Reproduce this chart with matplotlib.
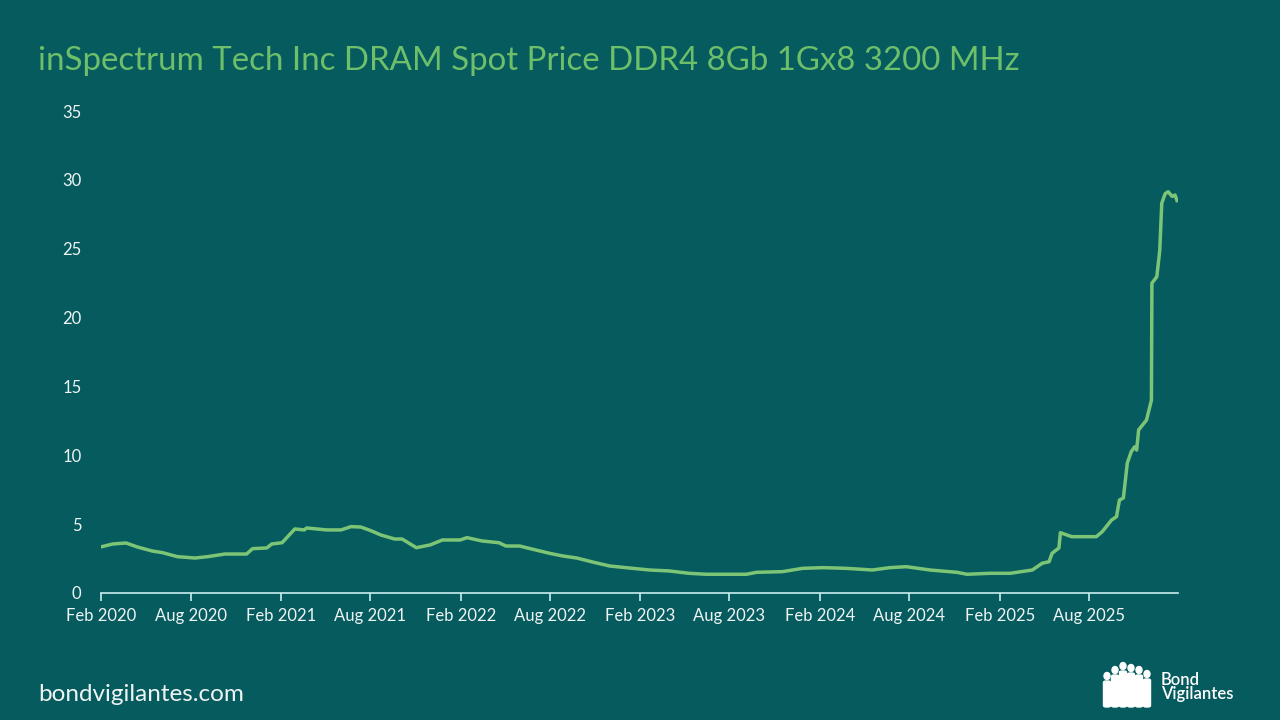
import numpy as np
import pandas as pd
import matplotlib
matplotlib.use("Agg")
import matplotlib.pyplot as plt
import matplotlib.dates as mdates
from matplotlib.patches import Ellipse, FancyBboxPatch

plt.rcParams['font.family'] = ['Lato', 'DejaVu Sans']

dates = ['2020-02-01', '2020-02-25', '2020-03-23', '2020-04-15', '2020-05-15',
         '2020-06-05', '2020-07-05', '2020-08-10', '2020-09-05', '2020-10-10',
         '2020-11-23', '2020-12-05', '2021-01-03', '2021-01-13', '2021-02-03',
         '2021-03-01', '2021-03-20', '2021-03-25', '2021-05-05', '2021-06-03',
         '2021-06-23', '2021-07-13', '2021-08-03', '2021-08-23', '2021-09-20',
         '2021-10-05', '2021-11-03', '2021-12-01', '2021-12-26', '2022-01-31',
         '2022-02-14', '2022-03-16', '2022-04-20', '2022-05-04', '2022-06-01',
         '2022-07-04', '2022-08-01', '2022-08-27', '2022-09-25', '2022-10-27',
         '2022-12-01', '2023-01-11', '2023-02-20', '2023-04-01', '2023-05-11',
         '2023-06-15', '2023-09-05', '2023-09-25', '2023-11-17', '2023-12-28',
         '2024-02-08', '2024-03-26', '2024-05-18', '2024-06-22', '2024-07-26',
         '2024-09-12', '2024-11-06', '2024-11-26', '2025-01-12', '2025-02-22',
         '2025-04-08', '2025-04-28', '2025-05-12', '2025-05-18', '2025-06-01',
         '2025-06-04', '2025-06-27', '2025-08-16', '2025-08-28', '2025-09-16',
         '2025-09-26', '2025-10-02', '2025-10-10', '2025-10-18', '2025-10-26',
         '2025-11-02', '2025-11-06', '2025-11-10', '2025-11-26', '2025-12-06',
         '2025-12-07', '2025-12-17', '2025-12-23', '2025-12-27', '2026-01-03',
         '2026-01-09', '2026-01-17', '2026-01-23', '2026-01-27']
prices = [3.35, 3.56, 3.63, 3.34, 3.05,
          2.93, 2.64, 2.54, 2.64, 2.83,
          2.83, 3.22, 3.27, 3.56, 3.65,
          4.65, 4.58, 4.72, 4.58, 4.58,
          4.82, 4.79, 4.52, 4.21, 3.92,
          3.92, 3.29, 3.49, 3.85, 3.85,
          4.02, 3.78, 3.65, 3.41, 3.41,
          3.12, 2.88, 2.69, 2.54, 2.25,
          1.96, 1.81, 1.67, 1.60, 1.43,
          1.36, 1.36, 1.50, 1.55, 1.79,
          1.84, 1.79, 1.67, 1.84, 1.91,
          1.67, 1.50, 1.36, 1.43, 1.43,
          1.67, 2.16, 2.27, 2.88, 3.27,
          4.38, 4.09, 4.09, 4.45, 5.30,
          5.54, 6.75, 6.90, 9.44, 10.26,
          10.62, 10.38, 11.84, 12.56, 14.0,
          22.5, 22.97, 24.9, 28.3, 29.0,
          29.14, 28.8, 28.9, 28.5]

x_ticks = ['2020-02-01', '2020-08-01', '2021-02-01', '2021-08-01', '2022-02-01',
           '2022-08-01', '2023-02-01', '2023-08-01', '2024-02-01', '2024-08-01',
           '2025-02-01', '2025-08-01']
y_ticks = [0, 5, 10, 15, 20, 25, 30, 35]

bg = '#065b5e'
line_col = '#7cc576'
text_col = '#eef4f4'

fig = plt.figure(figsize=(12.8, 7.2), dpi=100, facecolor=bg)
ax = fig.add_axes([0.0789, 0.1764, 0.8414, 0.6694])
ax.set_facecolor(bg)

ax.plot(pd.to_datetime(dates), prices, color=line_col, lw=2.5, solid_joinstyle='round')

ax.set_ylim(0, 35)
ax.set_yticks(y_ticks)
ax.set_xlim(pd.Timestamp('2020-02-01'), pd.Timestamp('2026-01-29'))
ax.set_xticks(pd.to_datetime(x_ticks))
ax.xaxis.set_major_formatter(mdates.DateFormatter('%b %Y'))

for s in ['top', 'right', 'left']:
    ax.spines[s].set_visible(False)
ax.spines['bottom'].set_color('#c8eeee')
ax.spines['bottom'].set_linewidth(1.2)
ax.tick_params(axis='x', colors='#c8eeee', length=6, width=1.2, direction='out',
               labelcolor=text_col, labelsize=12, pad=5)
ax.tick_params(axis='y', length=0, labelcolor=text_col, labelsize=12, pad=14)

fig.text(0.030, 0.915, 'inSpectrum Tech Inc DRAM Spot Price DDR4 8Gb 1Gx8 3200 MHz',
         color='#6dbf6a', fontsize=23.8, ha='left', va='center')
fig.text(0.030, 0.036, 'bondvigilantes.com', color=text_col, fontsize=17.5,
         ha='left', va='center')

# logo: little crowd of figures and wordmark
people_x = [1107, 1115, 1123, 1131, 1139, 1147]
people_h = [34, 40, 44, 42, 40, 36]
for px, ph in zip(people_x, people_h):
    top = 707 - ph
    fig.patches.append(Ellipse((px / 1280, 1 - (top + 3) / 720), 6 / 1280, 7 / 720,
                               transform=fig.transFigure, color='white'))
    fig.patches.append(FancyBboxPatch((px / 1280 - 3.5 / 1280, 1 - 707 / 720),
                                      7 / 1280, (ph - 8) / 720,
                                      boxstyle='round,pad=0,rounding_size=0.002',
                                      transform=fig.transFigure, color='white'))
fig.text(1161 / 1280, 1 - 687 / 720, 'Bond\nVigilantes', color='white', fontsize=12,
         fontweight='semibold', ha='left', va='center', linespacing=0.9)

fig.savefig('out.png', dpi=100, facecolor=bg)
